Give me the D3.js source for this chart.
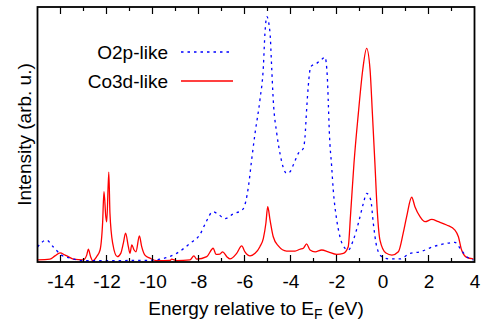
<!DOCTYPE html>
<html>
<head>
<meta charset="utf-8">
<script src="https://cdn.jsdelivr.net/npm/d3@7"></script>
<style>
  html, body { margin: 0; padding: 0; background: #fff; }
  svg { display: block; }
  text { font-family: "Liberation Sans", Arial, Helvetica, sans-serif; fill: #000; }
</style>
</head>
<body>
<svg id="chart" width="484" height="322"></svg>
<script>
// Projected density of states, energies in eV relative to the Fermi level
const o2pEnergy = [-15.0, -14.61, -14.33, -13.96, -13.54, -13.07, -12.5, -12.0, -11.0, -10.0, -9.67, -8.95, -8.37, -7.93, -7.67, -7.38, -7.15, -6.85, -6.5, -6.07, -5.83, -5.69, -5.54, -5.33, -5.18, -5.11, -5.03, -4.89, -4.82, -4.75, -4.6, -4.46, -4.17, -4.02, -3.88, -3.66, -3.44, -3.37, -3.3, -3.23, -3.12, -2.86, -2.64, -2.5, -2.4, -2.36, -2.31, -2.21, -2.14, -1.99, -1.85, -1.63, -1.49, -1.27, -1.05, -0.83, -0.69, -0.51, -0.4, -0.25, -0.03, 0.33, 0.76, 1.2, 1.63, 2.21, 2.79, 3.15, 3.37, 3.66, 3.95];
const o2pIntensity = [0.59, 0.86, 0.61, 0.27, 0.15, 0.05, 0.05, 0.05, 0.06, 0.07, 0.11, 0.34, 0.73, 1.09, 1.57, 1.97, 1.88, 1.70, 1.88, 2.07, 2.95, 4.0, 5.06, 6.35, 7.66, 8.98, 9.62, 8.98, 7.66, 6.35, 5.06, 4.27, 3.48, 3.54, 3.80, 4.26, 4.46, 4.90, 5.96, 6.87, 7.66, 7.79, 7.95, 8.03, 7.27, 6.35, 5.06, 3.74, 2.82, 1.65, 0.99, 0.54, 0.47, 0.86, 1.52, 2.30, 2.69, 2.43, 1.52, 0.60, 0.21, 0.12, 0.12, 0.34, 0.40, 0.60, 0.73, 0.77, 0.54, 0.21, 0.08];

const co3dEnergy = [-15.0, -14.46, -14.24, -14.02, -13.8, -13.66, -13.44, -13.02, -12.86, -12.79, -12.69, -12.6, -12.43, -12.28, -12.17, -12.11, -12.03, -11.99, -11.9, -11.85, -11.73, -11.53, -11.38, -11.27, -11.17, -11.05, -10.98, -10.9, -10.8, -10.72, -10.57, -10.47, -10.33, -10.11, -9.82, -9.24, -9.17, -8.95, -8.37, -8.2, -8.08, -7.64, -7.36, -7.24, -7.07, -6.95, -6.77, -6.63, -6.34, -6.12, -5.98, -5.76, -5.54, -5.33, -5.18, -5.07, -4.99, -4.89, -4.75, -4.53, -4.17, -3.8, -3.59, -3.44, -3.3, -3.15, -2.93, -2.64, -2.36, -1.99, -1.7, -1.49, -1.39, -1.24, -1.05, -0.86, -0.69, -0.54, -0.44, -0.33, -0.23, -0.11, 0.15, 0.41, 0.69, 0.9, 1.05, 1.27, 1.41, 1.63, 1.85, 2.14, 2.43, 2.79, 3.15, 3.3, 3.44, 3.66, 3.95];
const co3dIntensity = [0.08, 0.11, 0.24, 0.36, 0.27, 0.21, 0.11, 0.08, 0.27, 0.50, 0.21, 0.05, 0.21, 0.47, 1.52, 2.76, 1.78, 1.57, 3.52, 1.91, 0.73, 0.21, 0.34, 0.73, 1.13, 0.60, 0.34, 0.67, 0.47, 0.40, 1.02, 0.60, 0.27, 0.15, 0.05, 0.06, 0.11, 0.05, 0.08, 0.24, 0.11, 0.21, 0.54, 0.30, 0.31, 0.40, 0.21, 0.12, 0.34, 0.63, 0.40, 0.24, 0.34, 0.60, 0.93, 1.52, 2.17, 1.65, 0.99, 0.63, 0.43, 0.43, 0.50, 0.54, 0.71, 0.47, 0.40, 0.47, 0.40, 0.30, 0.34, 0.60, 1.84, 3.87, 5.83, 7.53, 8.38, 7.53, 5.83, 3.87, 2.04, 0.86, 0.35, 0.27, 0.40, 1.13, 1.78, 2.54, 2.17, 1.78, 1.58, 1.67, 1.58, 1.45, 1.25, 0.99, 0.47, 0.18, 0.12];

const xTickValues = d3.range(-14, 4, 1);
const xLabelValues = [-14, -12, -10, -8, -6, -4, -2, 0, 2, 4];

const seriesNames = ["O2p-like", "Co3d-like"];
const seriesColors = ["#0000ff", "#ff0000"];

const svg = d3.select("#chart");
const plotLeft = 37.5, plotRight = 474.5, plotTop = 7, plotBottom = 262;

const x = d3.scaleLinear().domain([-15, 4]).range([plotLeft, plotRight]);
const y = d3.scaleLinear().domain([0, 10]).range([plotBottom, plotTop]);

svg.append("defs").append("clipPath").attr("id", "plot-clip")
  .append("rect").attr("x", plotLeft).attr("y", plotTop)
  .attr("width", plotRight - plotLeft).attr("height", plotBottom - plotTop);

const line = d3.line()
  .x(d => x(d[0]))
  .y(d => y(d[1]))
  .curve(d3.curveMonotoneX);

const o2p = o2pEnergy.map((e, i) => [e, o2pIntensity[i]]);
const co3d = co3dEnergy.map((e, i) => [e, co3dIntensity[i]]);

const curves = svg.append("g").attr("clip-path", "url(#plot-clip)");
curves.append("path").datum(co3d)
  .attr("d", line).attr("fill", "none")
  .attr("stroke", seriesColors[1]).attr("stroke-width", 1.3);
curves.append("path").datum(o2p)
  .attr("d", line).attr("fill", "none")
  .attr("stroke", seriesColors[0]).attr("stroke-width", 1.3)
  .attr("stroke-dasharray", "2.5,4");

// Inward ticks on bottom and top edges; labelled ones are longer
const isMajor = v => xLabelValues.includes(v);
const tickLen = v => isMajor(v) ? 7 : 4;

const ticks = svg.append("g");
ticks.selectAll("line.b").data(xTickValues).join("line")
  .attr("class", "b")
  .attr("x1", d => x(d)).attr("x2", d => x(d))
  .attr("y1", plotBottom).attr("y2", d => plotBottom - tickLen(d))
  .attr("stroke", "#000").attr("stroke-width", 1.2);
ticks.selectAll("line.t").data(xTickValues).join("line")
  .attr("class", "t")
  .attr("x1", d => x(d)).attr("x2", d => x(d))
  .attr("y1", plotTop).attr("y2", d => plotTop + tickLen(d))
  .attr("stroke", "#000").attr("stroke-width", 1.2);

// Tick labels via a bottom axis
const labelAxis = d3.axisBottom(x).tickValues(xLabelValues)
  .tickSize(0).tickPadding(0)
  .tickFormat(d => String(d));
const gx = svg.append("g").attr("transform", `translate(0,${plotBottom})`).call(labelAxis);
gx.select(".domain").remove();
gx.selectAll("text")
  .attr("y", 26).attr("dy", null)
  .attr("font-size", 19)
  .attr("font-family", "'Liberation Sans', Arial, sans-serif")
  .attr("fill", "#000");

// Frame
svg.append("rect").attr("x", plotLeft).attr("y", plotTop)
  .attr("width", plotRight - plotLeft).attr("height", plotBottom - plotTop)
  .attr("fill", "none").attr("stroke", "#000").attr("stroke-width", 1.8);

// Axis titles
const xt = svg.append("text").attr("x", (plotLeft + plotRight) / 2).attr("y", 315)
  .attr("text-anchor", "middle").style("font-size", "19px");
xt.append("tspan").text("Energy relative to E");
xt.append("tspan").text("F").style("font-size", "14px").attr("dy", 4);
xt.append("tspan").text(" (eV)").attr("dy", -4);

svg.append("text")
  .attr("transform", `translate(31,${(plotTop + plotBottom) / 2}) rotate(-90)`)
  .attr("text-anchor", "middle").style("font-size", "19px")
  .text("Intensity (arb. u.)");

// Legend
const legendY = [52, 81];
const legend = svg.append("g");
seriesNames.forEach((name, i) => {
  legend.append("text").attr("x", 168).attr("y", legendY[i] + 7)
    .attr("text-anchor", "end").style("font-size", "19px").text(name);
  const l = legend.append("line")
    .attr("x1", 181).attr("x2", 233)
    .attr("y1", legendY[i]).attr("y2", legendY[i])
    .attr("stroke", seriesColors[i]).attr("stroke-width", 1.3);
  if (i === 0) l.attr("stroke-dasharray", "2.5,4");
});
</script>
</body>
</html>
